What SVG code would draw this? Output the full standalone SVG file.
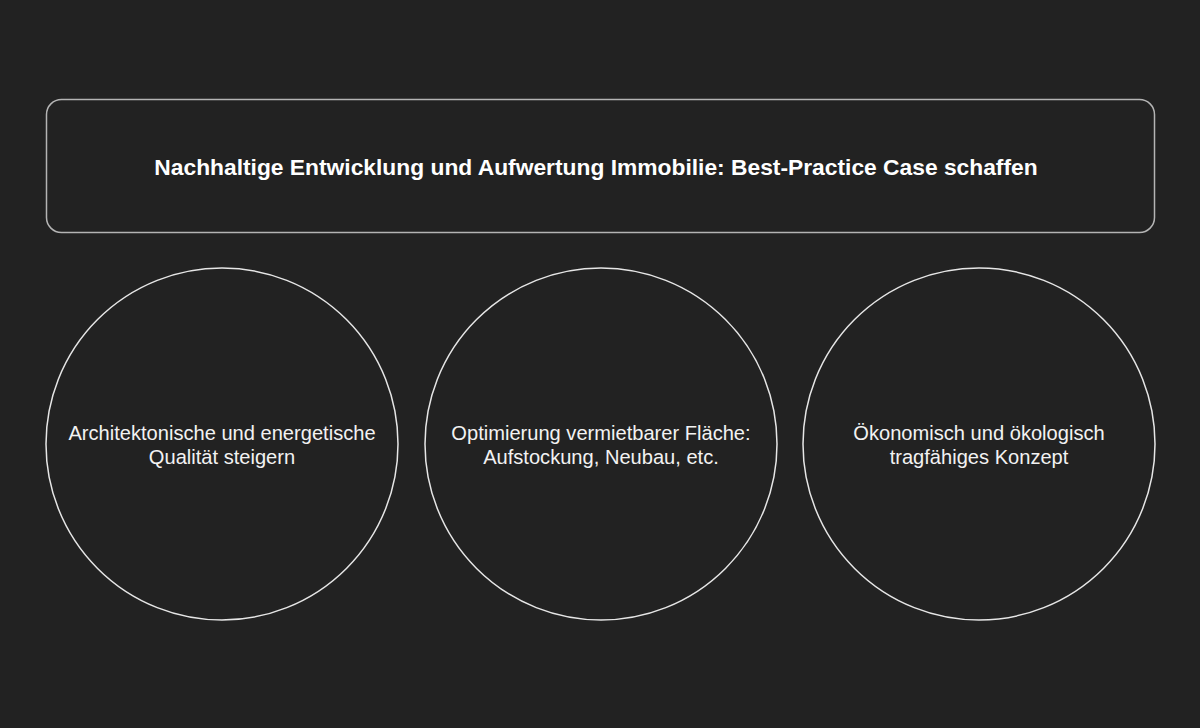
<svg xmlns="http://www.w3.org/2000/svg" width="1200" height="728" viewBox="0 0 1200 728">
<style>
.bg{fill:#222222}
.box{fill:#222222;stroke:#b4b4b4;stroke-width:1.5}
.circ{fill:#222222;stroke:#e6e6e6;stroke-width:1.5}
.title{font-family:"Liberation Sans",Arial,sans-serif;font-size:22.8px;font-weight:bold;fill:#ffffff;text-anchor:middle}
.lbl{font-family:"Liberation Sans",Arial,sans-serif;font-size:20.1px;fill:#f2f2f2;text-anchor:middle}
</style>
<rect class="bg" x="0" y="0" width="1200" height="728"/>
<g id="connectors"></g>
<g id="goal">
<rect class="box" x="46.5" y="99.5" width="1108" height="133" rx="15"/>
<text class="title" x="596" y="175">Nachhaltige Entwicklung und Aufwertung Immobilie: Best-Practice Case schaffen</text>
</g>
<g id="node1">
<circle class="circ" cx="222" cy="444" r="176"/>
<text class="lbl" x="222" y="440">Architektonische und energetische</text>
<text class="lbl" x="222" y="464">Qualität steigern</text>
</g>
<g id="node2">
<circle class="circ" cx="601" cy="444" r="176"/>
<text class="lbl" x="601" y="440">Optimierung vermietbarer Fläche:</text>
<text class="lbl" x="601" y="464">Aufstockung, Neubau, etc.</text>
</g>
<g id="node3">
<circle class="circ" cx="979" cy="444" r="176"/>
<text class="lbl" x="979" y="440">Ökonomisch und ökologisch</text>
<text class="lbl" x="979" y="464">tragfähiges Konzept</text>
</g>
</svg>
